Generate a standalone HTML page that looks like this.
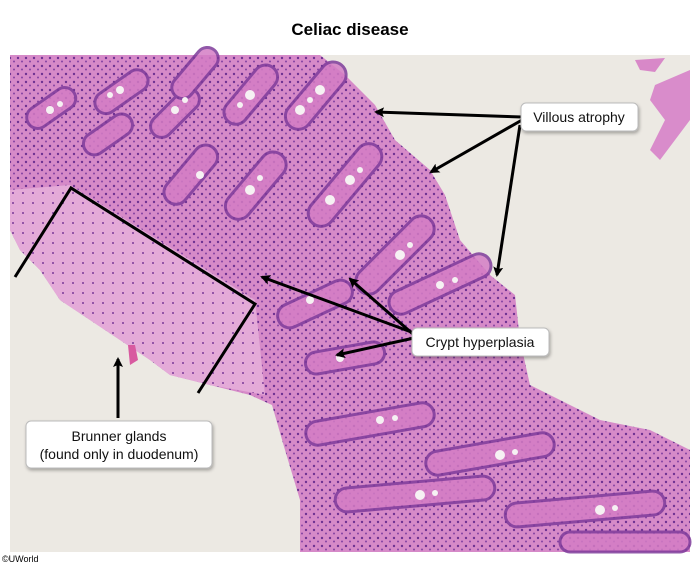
<!DOCTYPE html>
<html><head><meta charset="utf-8"><style>
html,body{margin:0;padding:0;background:#fff;}
body{width:700px;height:567px;overflow:hidden;font-family:"Liberation Sans",Arial,sans-serif;}
</style></head><body>
<svg width="700" height="567" viewBox="0 0 700 567" xmlns="http://www.w3.org/2000/svg" font-family="Liberation Sans, Arial, sans-serif">
<defs>
<marker id="ah" markerWidth="10" markerHeight="10" refX="8" refY="5" orient="auto" markerUnits="userSpaceOnUse">
<path d="M0,0 L10,5 L0,10 L2,5 z" fill="#000"/></marker>
<filter id="sh" x="-10%" y="-10%" width="130%" height="140%"><feDropShadow dx="1" dy="2" stdDeviation="1.5" flood-color="#000" flood-opacity="0.3"/></filter>
<pattern id="dots" width="8" height="8" patternUnits="userSpaceOnUse">
<rect width="8" height="8" fill="#d68ac8"/>
<circle cx="2" cy="2" r="1.2" fill="#6e3292"/><circle cx="6" cy="5.5" r="1" fill="#8442a2"/>
</pattern>
<pattern id="dotsl" width="10" height="10" patternUnits="userSpaceOnUse">
<rect width="10" height="10" fill="#e4aad8"/>
<circle cx="3" cy="3" r="1" fill="#7a3a98"/>
</pattern>
</defs>
<text x="350" y="35" text-anchor="middle" font-size="17" font-weight="bold">Celiac disease</text>
<rect x="10" y="55" width="680" height="497" fill="#ece9e3"/>
<path d="M10,55 L320,55 L345,75 L375,105 L395,140 L430,170 L445,195 L460,240 L490,275 L515,295 L520,340 L530,385 L560,400 L600,420 L650,430 L690,450 L690,552 L300,552 L300,500 L285,450 L272,405 L250,395 L210,385 L170,375 L150,360 L120,340 L90,320 L60,300 L40,270 L20,250 L10,230 Z" fill="url(#dots)"/>
<path d="M10,190 L70,185 L255,300 L265,395 L210,385 L170,375 L150,360 L120,340 L90,320 L60,300 L40,270 L20,250 L10,230 Z" fill="url(#dotsl)"/>
<path d="M635,60 L665,58 L655,72 L640,70 Z" fill="#d888c8"/>
<path d="M655,85 L690,70 L690,120 L675,140 L660,160 L650,150 L665,120 L650,100 Z" fill="#d98ccb"/>
<g fill="#d47cc4" stroke="#7e3a9a" stroke-width="3" opacity="0.85">
<rect x="25" y="95" width="55" height="22" rx="11" transform="rotate(-35 55 109)"/>
<rect x="80" y="122" width="55" height="22" rx="11" transform="rotate(-35 110 133)"/>
<rect x="90" y="78" width="60" height="22" rx="11" transform="rotate(-35 125 88)"/>
<rect x="145" y="102" width="60" height="22" rx="11" transform="rotate(-45 175 113)"/>
<rect x="165" y="62" width="60" height="22" rx="11" transform="rotate(-50 195 73)"/>
<rect x="215" y="83" width="70" height="24" rx="12" transform="rotate(-50 250 94)"/>
<rect x="275" y="83" width="80" height="26" rx="13" transform="rotate(-50 315 95)"/>
<rect x="155" y="163" width="70" height="24" rx="12" transform="rotate(-50 190 174)"/>
<rect x="215" y="173" width="80" height="26" rx="13" transform="rotate(-50 255 185)"/>
<rect x="295" y="172" width="100" height="26" rx="13" transform="rotate(-50 345 185)"/>
<rect x="345" y="242" width="100" height="26" rx="13" transform="rotate(-45 395 255)"/>
<rect x="275" y="292" width="80" height="24" rx="12" transform="rotate(-25 315 304)"/>
<rect x="385" y="272" width="110" height="24" rx="12" transform="rotate(-25 440 284)"/>
<rect x="305" y="347" width="80" height="22" rx="11" transform="rotate(-10 345 358)"/>
<rect x="305" y="412" width="130" height="24" rx="12" transform="rotate(-10 370 424)"/>
<rect x="425" y="442" width="130" height="24" rx="12" transform="rotate(-10 490 454)"/>
<rect x="335" y="482" width="160" height="24" rx="12" transform="rotate(-5 415 494)"/>
<rect x="505" y="497" width="160" height="24" rx="12" transform="rotate(-5 585 509)"/>
<rect x="560" y="532" width="130" height="20" rx="10"/>
</g>
<g fill="#f6f1f3">
<circle cx="50" cy="110" r="4"/><circle cx="60" cy="104" r="3"/><circle cx="120" cy="90" r="4"/><circle cx="110" cy="95" r="3"/><circle cx="175" cy="110" r="4"/><circle cx="185" cy="100" r="3"/><circle cx="250" cy="95" r="5"/><circle cx="240" cy="105" r="3"/><circle cx="300" cy="110" r="5"/><circle cx="320" cy="90" r="5"/><circle cx="310" cy="100" r="3"/><circle cx="250" cy="190" r="5"/><circle cx="260" cy="178" r="3"/><circle cx="330" cy="200" r="5"/><circle cx="350" cy="180" r="5"/><circle cx="360" cy="170" r="3"/><circle cx="400" cy="255" r="5"/><circle cx="410" cy="245" r="3"/><circle cx="440" cy="285" r="4"/><circle cx="455" cy="280" r="3"/><circle cx="340" cy="358" r="4"/><circle cx="380" cy="420" r="4"/><circle cx="395" cy="418" r="3"/><circle cx="500" cy="455" r="5"/><circle cx="515" cy="452" r="3"/><circle cx="420" cy="495" r="5"/><circle cx="435" cy="493" r="3"/><circle cx="600" cy="510" r="5"/><circle cx="615" cy="508" r="3"/><circle cx="200" cy="175" r="4"/><circle cx="310" cy="300" r="4"/>
</g>
<path d="M128,345 L135,345 L138,360 L130,365 Z" fill="#d85aa0"/>
<path d="M15,277 L71,188 L255,304 L198,393" fill="none" stroke="#000" stroke-width="3"/>
<g stroke="#000" stroke-width="3" marker-end="url(#ah)">
<line x1="522" y1="117" x2="376" y2="112"/>
<line x1="522" y1="120" x2="431" y2="172"/>
<line x1="520" y1="125" x2="497" y2="275"/>
<line x1="414" y1="333" x2="262" y2="277"/>
<line x1="414" y1="335" x2="350" y2="279"/>
<line x1="414" y1="338" x2="337" y2="355"/>
<line x1="118" y1="418" x2="118" y2="359"/>
</g>
<g filter="url(#sh)" fill="#fff" stroke="#bbb" stroke-width="1">
<rect x="521" y="103" width="117" height="28" rx="5"/>
<rect x="412" y="328" width="137" height="28" rx="5"/>
<rect x="26" y="421" width="186" height="47" rx="5"/>
</g>
<g font-size="14" text-anchor="middle" fill="#111">
<text x="579" y="122">Villous atrophy</text>
<text x="480" y="347">Crypt hyperplasia</text>
<text x="119" y="441">Brunner glands</text>
<text x="119" y="459">(found only in duodenum)</text>
</g>
<text x="2" y="562" font-size="9">©UWorld</text>
</svg>
</body></html>
